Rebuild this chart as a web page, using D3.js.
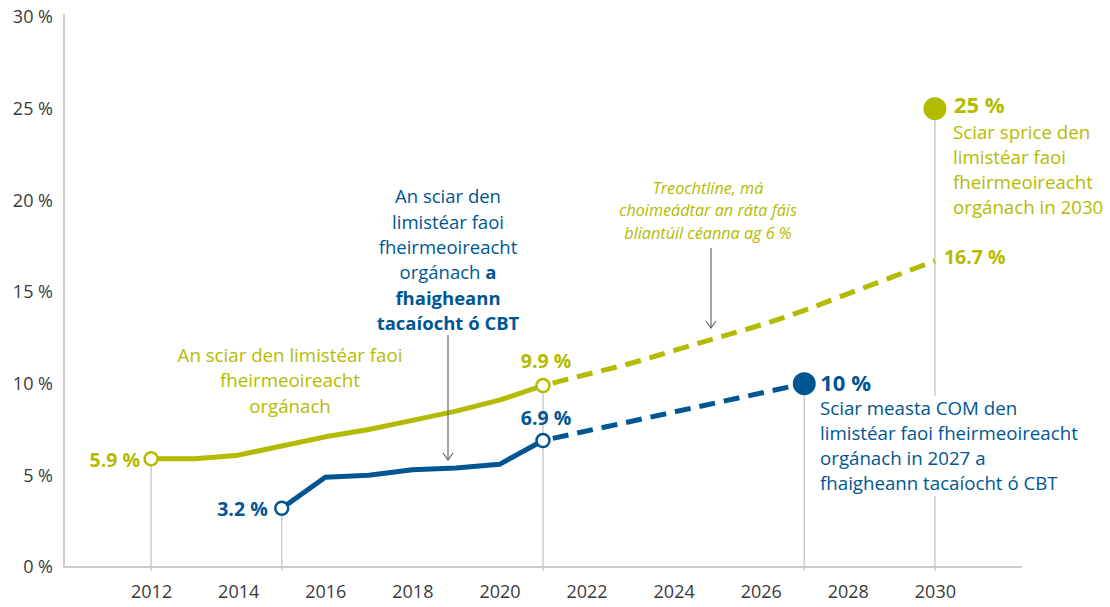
<!DOCTYPE html>
<html>
<head>
<meta charset="utf-8">
<script src="https://cdn.jsdelivr.net/npm/d3@7"></script>
<style>
  body { margin: 0; background: #fff; }
  svg { display: block; font-family: 'Open Sans', sans-serif; }
</style>
</head>
<body>
<svg id="canvas" width="1110" height="607"></svg>
<script>
var green = '#b3bb00';
var blue = '#005692';
var grey = '#cccccc';

// organic farming share of agricultural area, %
var organicYears = [2012, 2013, 2014, 2015, 2016, 2017, 2018, 2019, 2020, 2021];
var organicValues = [5.9, 5.9, 6.1, 6.6, 7.1, 7.5, 8.0, 8.5, 9.1, 9.9];
// trend line at 6 % yearly growth
var trendYears = [2021, 2022, 2023, 2024, 2025, 2026, 2027, 2028, 2029, 2030];
var trendValues = [9.9, 10.5, 11.1, 11.8, 12.5, 13.2, 14.0, 14.9, 15.8, 16.7];
// organic area supported by CAP
var capYears = [2015, 2016, 2017, 2018, 2019, 2020, 2021];
var capValues = [3.2, 4.9, 5.0, 5.3, 5.4, 5.6, 6.9];
var capProjYears = [2021, 2027];
var capProjValues = [6.9, 10];
// 2030 target
var targetYear = 2030;
var targetValue = 25;

var yTicks = [0, 5, 10, 15, 20, 25, 30];
var xTicks = [2012, 2014, 2016, 2018, 2020, 2022, 2024, 2026, 2028, 2030];

var svg = d3.select('#canvas');

var x = d3.scaleLinear().domain([2010, 2032]).range([64, 1022]);
var y = d3.scaleLinear().domain([0, 30]).range([567, 17]);

function zip(xs, vs) {
  return xs.map((d, i) => ({year: d, value: vs[i]}));
}
var organic = zip(organicYears, organicValues);
var trend = zip(trendYears, trendValues);
var cap = zip(capYears, capValues);
var capProj = zip(capProjYears, capProjValues);

// axes
var yAxis = svg.append('g')
  .attr('transform', 'translate(64,0)')
  .attr('font-family', null)
  .call(d3.axisLeft(y).tickValues(yTicks).tickSize(0).tickPadding(11).tickFormat(d => d + ' %'));
yAxis.select('.domain').remove();
yAxis.attr('font-family', 'Open Sans').attr('font-size', null);
yAxis.selectAll('text').style('font-size', '18px').style('fill', '#3a3a3a');

var xAxis = svg.append('g')
  .attr('transform', 'translate(0,567)')
  .call(d3.axisBottom(x).tickValues(xTicks).tickSize(0).tickPadding(18).tickFormat(d3.format('d')));
xAxis.select('.domain').remove();
xAxis.attr('font-family', 'Open Sans').attr('font-size', null);
xAxis.selectAll('text').style('font-size', '18px').style('fill', '#3a3a3a');

svg.append('line')
  .attr('x1', 64).attr('x2', 64).attr('y1', 14).attr('y2', 568)
  .style('stroke', grey).style('stroke-width', 2);
svg.append('line')
  .attr('x1', 63).attr('x2', 1022).attr('y1', y(0)).attr('y2', y(0))
  .style('stroke', grey).style('stroke-width', 2);

// drop lines
var drops = [
  {year: 2012, value: organicValues[0]},
  {year: 2015, value: capValues[0]},
  {year: 2021, value: organicValues[organicValues.length - 1]},
  {year: 2027, value: capProjValues[1]},
  {year: targetYear, value: targetValue},
];
svg.selectAll('.drop')
  .data(drops)
  .enter()
  .append('line')
  .attr('class', 'drop')
  .attr('x1', d => x(d.year)).attr('x2', d => x(d.year))
  .attr('y1', d => y(d.value)).attr('y2', y(0) + 4)
  .style('stroke', grey).style('stroke-width', 1.5);

// lines
var line = d3.line().x(d => x(d.year)).y(d => y(d.value));
var curve = d3.line().x(d => x(d.year)).y(d => y(d.value)).curve(d3.curveMonotoneX);

svg.append('path').datum(trend).attr('d', curve)
  .style('fill', 'none').style('stroke', green).style('stroke-width', 5)
  .style('stroke-dasharray', '16,9').style('stroke-dashoffset', -10);
svg.append('path').datum(capProj).attr('d', line)
  .style('fill', 'none').style('stroke', blue).style('stroke-width', 5)
  .style('stroke-dasharray', '16,9').style('stroke-dashoffset', -10);
svg.append('path').datum(organic).attr('d', line)
  .style('fill', 'none').style('stroke', green).style('stroke-width', 5)
  .style('stroke-linejoin', 'round');
svg.append('path').datum(cap).attr('d', line)
  .style('fill', 'none').style('stroke', blue).style('stroke-width', 5)
  .style('stroke-linejoin', 'round');

// open circles
var openPts = [
  {d: organic[0], c: green},
  {d: organic[organic.length - 1], c: green},
  {d: cap[0], c: blue},
  {d: cap[cap.length - 1], c: blue},
];
svg.selectAll('.open')
  .data(openPts)
  .enter()
  .append('circle')
  .attr('class', 'open')
  .attr('cx', p => x(p.d.year)).attr('cy', p => y(p.d.value))
  .attr('r', 6.5)
  .style('fill', '#fff').style('stroke', p => p.c).style('stroke-width', 2.5);

// filled circles
var fullPts = [
  {d: {year: targetYear, value: targetValue}, c: green},
  {d: capProj[1], c: blue},
];
svg.selectAll('.full')
  .data(fullPts)
  .enter()
  .append('circle')
  .attr('class', 'full')
  .attr('cx', p => x(p.d.year)).attr('cy', p => y(p.d.value))
  .attr('r', 11.5)
  .style('fill', p => p.c);

// value labels
function label(txt, px, py, color, anchor, size) {
  svg.append('text')
    .attr('x', px).attr('y', py)
    .attr('dy', '0.35em')
    .attr('text-anchor', anchor)
    .style('font-weight', 'bold')
    .style('font-size', (size || 19.5) + 'px')
    .style('fill', color)
    .text(txt);
}
label('5.9 %', x(2012) - 11, y(organicValues[0]) + 1, green, 'end');
label('3.2 %', x(2015) - 14, y(capValues[0]) + 1, blue, 'end');
label('9.9 %', x(2021) + 3, y(9.9) - 24, green, 'middle');
label('6.9 %', x(2021) + 3, y(6.9) - 22, blue, 'middle');
label('16.7 %', x(2030) + 9, y(16.7) - 4, green, 'start');
label('25 %', x(2030) + 19, y(25) - 3, green, 'start', 22);
label('10 %', x(2027) + 16, y(10), blue, 'start', 22);

// text blocks
function block(lines, px, py, step, color, anchor, size, italic) {
  var t = svg.append('text')
    .attr('text-anchor', anchor)
    .style('font-size', size + 'px')
    .style('fill', color)
    .style('font-style', italic ? 'italic' : 'normal');
  lines.forEach((ln, i) => {
    var row = t.append('tspan').attr('x', px).attr('y', py + i * step).attr('dy', '0.35em');
    ln.forEach(part => {
      row.append('tspan').style('font-weight', part.b ? 'bold' : 'normal').text(part.t);
    });
  });
  return t;
}

block([[{t: 'Sciar sprice den'}], [{t: 'limistéar faoi'}], [{t: 'fheirmeoireacht'}], [{t: 'orgánach in 2030'}]],
  953, 132, 25, green, 'start', 18.7);

svg.append('rect').attr('x', 815).attr('y', 396).attr('width', 285).attr('height', 100).style('fill', '#fff');
block([[{t: 'Sciar measta COM den'}], [{t: 'limistéar faoi fheirmeoireacht'}], [{t: 'orgánach in 2027 a'}], [{t: 'fhaigheann tacaíocht ó CBT'}]],
  820, 408, 25, blue, 'start', 18.7);

block([[{t: 'An sciar den'}], [{t: 'limistéar faoi'}], [{t: 'fheirmeoireacht'}],
  [{t: 'orgánach '}, {t: 'a', b: true}], [{t: 'fhaigheann', b: true}], [{t: 'tacaíocht ó CBT', b: true}]],
  448, 197, 25.3, blue, 'middle', 18.5);

block([[{t: 'An sciar den limistéar faoi'}], [{t: 'fheirmeoireacht'}], [{t: 'orgánach'}]],
  290, 355, 25.5, green, 'middle', 18.7);

block([[{t: 'Treochtlíne, má'}], [{t: 'choimeádtar an ráta fáis'}], [{t: 'bliantúil céanna ag 6 %'}]],
  708, 188, 22.5, green, 'middle', 16.2, true);

// arrows
function arrow(px, y1, y2) {
  var g = svg.append('g').style('stroke', '#666').style('stroke-width', 1.2).style('fill', 'none');
  g.append('line').attr('x1', px).attr('x2', px).attr('y1', y1).attr('y2', y2);
  g.append('path').attr('d', `M${px - 5},${y2 - 7}L${px},${y2}L${px + 5},${y2 - 7}`);
}
arrow(448, 335, 460);
arrow(711, 248, 328);
</script>
</body>
</html>
